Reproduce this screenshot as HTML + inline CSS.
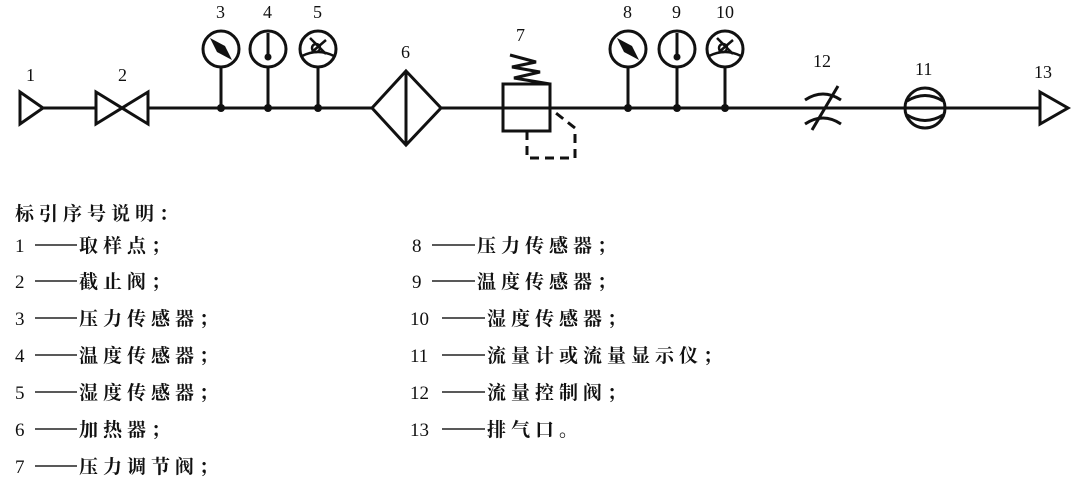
<!DOCTYPE html>
<html><head><meta charset="utf-8"><style>
body{margin:0;background:#fff;}
svg{display:block;}
text{font-family:"Liberation Serif","Noto Serif CJK SC",serif;fill:#111;}
.t{font-family:"Liberation Serif","Noto Sans CJK SC",sans-serif;font-size:19px;letter-spacing:5px;font-weight:bold;}
.n{font-size:18px;}
</style></head><body>
<svg width="1080" height="485" viewBox="0 0 1080 485" xmlns="http://www.w3.org/2000/svg">
<g stroke="#111" stroke-width="3" fill="none">
<line x1="43" y1="108" x2="96" y2="108"/>
<line x1="148" y1="108" x2="372" y2="108"/>
<line x1="441" y1="108" x2="1040" y2="108"/>
<polygon points="20,92 43,108 20,124"/>
<polygon points="96,92 148,124 148,92 96,124"/>
<line x1="221" y1="67" x2="221" y2="108"/>
<line x1="268" y1="67" x2="268" y2="108"/>
<line x1="318" y1="67" x2="318" y2="108"/>
<line x1="628" y1="67" x2="628" y2="108"/>
<line x1="677" y1="67" x2="677" y2="108"/>
<line x1="725" y1="67" x2="725" y2="108"/>
<circle cx="221" cy="49" r="18"/><circle cx="268" cy="49" r="18"/><circle cx="318" cy="49" r="18"/>
<circle cx="628" cy="49" r="18"/><circle cx="677" cy="49" r="18"/><circle cx="725" cy="49" r="18"/>
<polygon points="406,71 441,108 406,145 372,108"/>
<line x1="406" y1="71" x2="406" y2="145"/>
<rect x="503" y="84" width="47" height="47"/>
<polyline points="510,55 536,62 512,67 540,72 514,78 550,84"/>
<polyline stroke-dasharray="9,6" points="527,131 527,158 575,158 575,128 552,110"/>
<path d="M805 100 Q823 88 841 100"/>
<path d="M805 124 Q823 112 841 124"/>
<line x1="812" y1="130" x2="838" y2="86"/>
<circle cx="925" cy="108" r="20"/>
<path d="M907 101 Q925 90 943 101"/>
<path d="M907 115 Q925 126 943 115"/>
<polygon points="1040,92 1068,108 1040,124"/>
</g>
<g fill="#111">
<circle cx="221" cy="108" r="4"/><circle cx="268" cy="108" r="4"/><circle cx="318" cy="108" r="4"/>
<circle cx="628" cy="108" r="4"/><circle cx="677" cy="108" r="4"/><circle cx="725" cy="108" r="4"/>
<polygon points="210,38 225,46 232,60 217,52"/>
<polygon points="617,38 632,46 639,60 624,52"/>
<rect x="266.5" y="33" width="3" height="22"/><circle cx="268" cy="57" r="3.5"/>
<rect x="675.5" y="33" width="3" height="22"/><circle cx="677" cy="57" r="3.5"/>
</g>
<g stroke="#111" stroke-width="2.5" fill="none">
<path d="M302 56 Q318 48 334 56"/><path d="M310 38 L326 54 M326 40 L312 52"/><circle cx="316" cy="48" r="4"/>
<path d="M709 56 Q725 48 741 56"/><path d="M717 38 L733 54 M733 40 L719 52"/><circle cx="723" cy="48" r="4"/>
</g>
<g class="n">
<text x="26" y="81">1</text><text x="118" y="81">2</text>
<text x="216" y="18">3</text><text x="263" y="18">4</text><text x="313" y="18">5</text>
<text x="401" y="58">6</text><text x="516" y="41">7</text>
<text x="623" y="18">8</text><text x="672" y="18">9</text><text x="716" y="18">10</text>
<text x="813" y="67">12</text><text x="915" y="75">11</text><text x="1034" y="78">13</text>
</g>
<g stroke="#222" stroke-width="1.5">
<line x1="35" y1="245" x2="77" y2="245"/><line x1="35" y1="281" x2="77" y2="281"/>
<line x1="35" y1="318" x2="77" y2="318"/><line x1="35" y1="355" x2="77" y2="355"/>
<line x1="35" y1="392" x2="77" y2="392"/><line x1="35" y1="429" x2="77" y2="429"/>
<line x1="35" y1="466" x2="77" y2="466"/>
<line x1="432" y1="245" x2="475" y2="245"/><line x1="432" y1="281" x2="475" y2="281"/>
<line x1="442" y1="318" x2="485" y2="318"/><line x1="442" y1="355" x2="485" y2="355"/>
<line x1="442" y1="392" x2="485" y2="392"/><line x1="442" y1="429" x2="485" y2="429"/>
</g>
<g class="t">
<text x="15" y="220">标引序号说明：</text>
<text x="15" y="252" font-weight="normal">1</text><text x="79" y="252">取样点；</text>
<text x="15" y="288" font-weight="normal">2</text><text x="79" y="288">截止阀；</text>
<text x="15" y="325" font-weight="normal">3</text><text x="79" y="325">压力传感器；</text>
<text x="15" y="362" font-weight="normal">4</text><text x="79" y="362">温度传感器；</text>
<text x="15" y="399" font-weight="normal">5</text><text x="79" y="399">湿度传感器；</text>
<text x="15" y="436" font-weight="normal">6</text><text x="79" y="436">加热器；</text>
<text x="15" y="473" font-weight="normal">7</text><text x="79" y="473">压力调节阀；</text>
<text x="412" y="252" font-weight="normal">8</text><text x="477" y="252">压力传感器；</text>
<text x="412" y="288" font-weight="normal">9</text><text x="477" y="288">温度传感器；</text>
<text x="410" y="325" letter-spacing="0" font-weight="normal">10</text><text x="487" y="325">湿度传感器；</text>
<text x="410" y="362" letter-spacing="0" font-weight="normal">11</text><text x="487" y="362">流量计或流量显示仪；</text>
<text x="410" y="399" letter-spacing="0" font-weight="normal">12</text><text x="487" y="399">流量控制阀；</text>
<text x="410" y="436" letter-spacing="0" font-weight="normal">13</text><text x="487" y="436">排气口。</text>
</g>
</svg>
</body></html>
